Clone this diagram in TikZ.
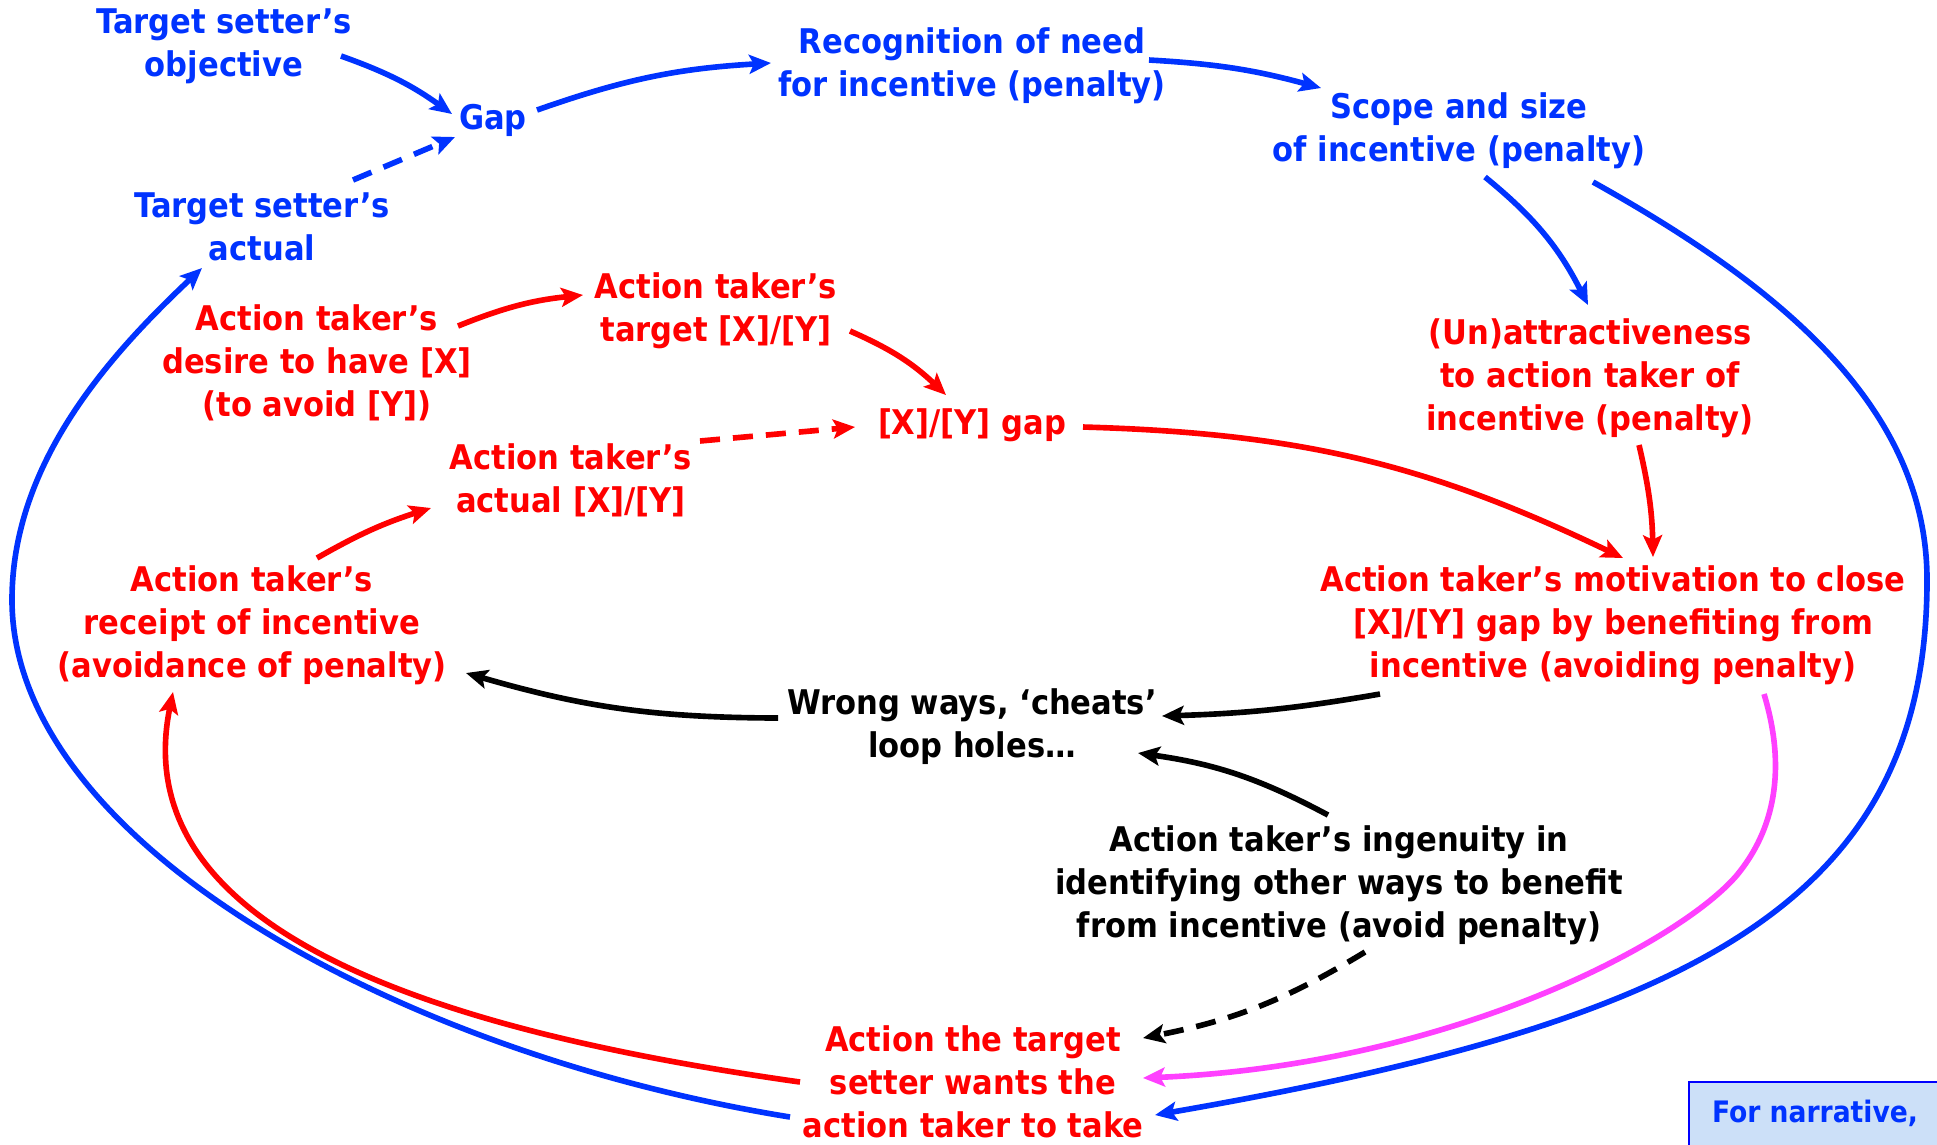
\documentclass[tikz,border=0pt]{standalone}
\usepackage{fontspec}
\setmainfont{DejaVu Sans}[FakeStretch=0.9]
\usetikzlibrary{arrows.meta,calc}

\definecolor{tblue}{RGB}{0,51,255}
\definecolor{tred}{RGB}{255,0,0}
\definecolor{tmag}{RGB}{255,64,255}
\definecolor{boxfill}{RGB}{204,224,248}
\definecolor{boxline}{RGB}{0,0,255}

\tikzset{
  lbl/.style={align=center, inner sep=0pt, font=\fontsize{9.67}{12.23}\selectfont\bfseries},
  bluetxt/.style={lbl, text=tblue},
  redtxt/.style={lbl, text=tred},
  blacktxt/.style={lbl, text=black},
  conn/.style={line width=1.6pt, -{Stealth[length=6.2pt,width=5.4pt,inset=1.3pt]}},
  bl/.style={conn, draw=tblue},
  rd/.style={conn, draw=tred},
  bk/.style={conn, draw=black},
  mg/.style={conn, draw=tmag},
  dsh/.style={dash pattern=on 5.7pt off 3.7pt},
  notebox/.style={draw=boxline, line width=0.8pt, fill=boxfill}
}

\begin{document}
\begin{tikzpicture}[x=0.01cm, y=-0.01cm]
\useasboundingbox (0,0) rectangle (1937,1144);

% the target setter's side
\node[bluetxt] (obj)    at (224,46)   {Target setter’s\\objective};
\node[bluetxt] (gap)    at (493,120)  {Gap};
\node[bluetxt] (tsact)  at (262,227)  {Target setter’s\\actual};
\node[bluetxt] (recog)  at (972,66)   {Recognition of need\\for incentive (penalty)};
\node[bluetxt] (scope)  at (1459,131) {Scope and size\\of incentive (penalty)};

% the action taker's side
\node[redtxt] (unattr)  at (1590,378) {(Un)attractiveness\\to action taker of\\incentive (penalty)};
\node[redtxt] (target)  at (716,311)  {Action taker’s\\target [X]/[Y]};
\node[redtxt] (desire)  at (317,363)  {Action taker’s\\desire to have [X]\\(to avoid [Y])};
\node[redtxt] (xygap)   at (972,425)  {[X]/[Y] gap};
\node[redtxt] (atact)   at (571,480)  {Action taker’s\\actual [X]/[Y]};
\node[redtxt] (receipt) at (252,625)  {Action taker’s\\receipt of incentive\\(avoidance of penalty)};
\node[redtxt] (motiv)   at (1613,625) {Action taker’s motivation to close\\{}[X]/[Y] gap by benefiting from\\incentive (avoiding penalty)};
\node[redtxt] (action)  at (973,1082) {Action the target\\setter wants the\\action taker to take};

% side routes
\node[blacktxt] (wrong) at (972,727)  {Wrong ways, ‘cheats’\\loop holes…};
\node[blacktxt] (ingen) at (1339,885) {Action taker’s ingenuity in\\identifying other ways to benefit\\from incentive (avoid penalty)};

% narrative note
\draw[notebox] (1689,1082) rectangle (1960,1170);
\node[lbl, text=tblue, font=\fontsize{8.4}{10.8}\selectfont\bfseries] (note) at (1815,1113) {For narrative,};

% upper loop
\draw[bl] ($(obj)+(117,10)$) to[bend left=8] ($(gap)+(-41,-6)$);
\draw[bl,dsh] ($(tsact)+(91,-47)$) -- ($(gap)+(-38,17)$);
\draw[bl] ($(gap)+(44,-10)$) to[bend left=8] ($(recog)+(-201,-3)$);
\draw[bl] ($(recog)+(177,-6)$) to[bend left=6] ($(scope)+(-138,-43)$);
\draw[bl] ($(scope)+(26,46)$) to[bend left=12] ($(unattr)+(-2,-73)$);
\draw[rd] ($(unattr)+(49,67)$) to[bend left=6] ($(motiv)+(40,-68)$);

% inner loop
\draw[rd] ($(xygap)+(111,2)$) to[bend left=12] ($(motiv)+(10,-67)$);
\draw[rd] ($(target)+(134,20)$) to[bend left=10] ($(xygap)+(-26,-30)$);
\draw[rd] ($(desire)+(141,-37)$) to[bend left=8] ($(target)+(-133,-16)$);
\draw[rd,dsh] ($(atact)+(129,-39)$) -- ($(xygap)+(-117,2)$);
\draw[rd] ($(receipt)+(65,-67)$) to[bend left=6] ($(atact)+(-140,28)$);

% wrong ways
\draw[bk] ($(motiv)+(-233,69)$) to[bend left=4] ($(wrong)+(190,-11)$);
\draw[bk] ($(wrong)+(-194,-9)$) to[bend left=8] ($(receipt)+(214,48)$);
\draw[bk] ($(ingen)+(-11,-70)$) to[bend right=10] ($(wrong)+(166,26)$);
\draw[bk,dsh] ($(ingen)+(26,67)$) to[bend left=10] ($(action)+(170,-44)$);

% outer loops
\draw[mg] ($(motiv)+(151,69)$) .. controls (1787,770) and (1774,830) .. (1737,875)
          .. controls (1680,942) and (1450,1065) .. ($(action)+(170,-4)$);
\draw[bl] ($(scope)+(134,51)$) .. controls (1776,284) and (1927,405) .. (1927,580)
          .. controls (1927,900) and (1697,1021) .. ($(action)+(182,33)$);
\draw[bl] ($(action)+(-183,35)$) .. controls (395,1053) and (12,840) .. (12,600)
          .. controls (12,460) and (114,351) .. ($(tsact)+(-60,41)$);
\draw[rd] ($(action)+(-173,0)$) .. controls (453,1033) and (123,937) .. ($(receipt)+(-79,67)$);
\end{tikzpicture}
\end{document}
